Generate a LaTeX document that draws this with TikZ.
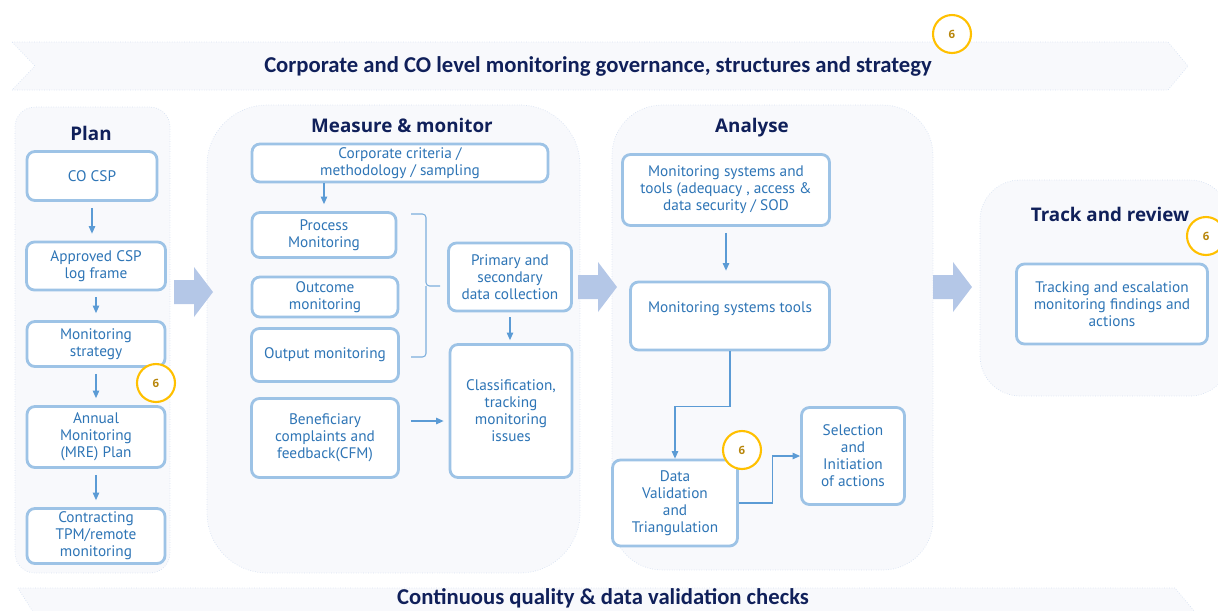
\documentclass[tikz,border=0pt]{standalone}
\usepackage{fontspec}
\setmainfont{PT Sans}
\newfontfamily\headfont{Open Sans}
\newfontfamily\bannerfont{Carlito}
\usepackage{xcolor}
\usetikzlibrary{arrows.meta,positioning,calc}
\definecolor{navy}{RGB}{16,32,90}
\definecolor{boxline}{RGB}{157,195,230}
\definecolor{boxtext}{RGB}{46,117,182}
\definecolor{linkblue}{RGB}{91,155,213}
\definecolor{panelfill}{RGB}{248,249,252}
\definecolor{panelline}{RGB}{214,225,242}
\definecolor{blockblue}{RGB}{180,199,231}
\definecolor{gold}{RGB}{255,192,0}
\definecolor{golddark}{RGB}{184,134,11}

\begin{document}
\begin{tikzpicture}[x=0.02cm,y=-0.02cm,
  box/.style={draw=boxline,line width=1.6pt,fill=white,rounded corners=4.5pt,align=center,
              text=boxtext,font=\fontsize{8.7}{9.7}\selectfont,inner sep=1pt},
  panel/.style={draw=panelline,densely dotted,fill=panelfill},
  banner/.style={draw=panelline,densely dotted,fill=panelfill},
  title/.style={font=\headfont\bfseries\fontsize{10.7}{12}\selectfont,text=navy},
  bannertext/.style={font=\bannerfont\bfseries\fontsize{12.9}{14}\selectfont,text=navy},
  badge/.style={circle,draw=gold,line width=1.2pt,fill=white,minimum size=0.76cm,inner sep=0pt,
              font=\headfont\bfseries\fontsize{6.5}{7}\selectfont,text=golddark},
  link/.style={-{Triangle[length=1.5mm,width=1.3mm]},linkblue,line width=0.6pt},
  bracket/.style={linkblue!80,line width=0.6pt,rounded corners=2pt}]
  \useasboundingbox (0,0) rectangle (1218,610);
  \clip (0,0) rectangle (1218,610);
  % banners
  \draw[banner] (12,42) -- (1168,42) -- (1188,66) -- (1168,90) -- (12,90) -- (35,66) -- cycle;
  \node[bannertext] (govern) at (598,66) {Corporate and CO level monitoring governance, structures and strategy};
  \draw[banner] (18,588) -- (1175,588) -- (1195,612) -- (1175,636) -- (18,636) -- (33,612) -- cycle;
  \node[bannertext] (checks) at (603,598) {Continuous quality \& data validation checks};
  % panels
  \node[panel,rounded corners=0.4cm,minimum width=3.1cm,minimum height=9.32cm] (plan) at (92.5,340) {};
  \node[panel,rounded corners=1.2cm,minimum width=7.46cm,minimum height=9.36cm] (measure) at (393.5,339) {};
  \node[panel,rounded corners=1.0cm,minimum width=6.42cm,minimum height=9.3cm] (analyse) at (772.5,337.5) {};
  \node[panel,rounded corners=0.8cm,minimum width=5.0cm,minimum height=4.32cm] (track) at (1105,288) {};
  \node[title] (plant) at (91,133) {Plan};
  \node[title] (measuret) at (402,125) {Measure \& monitor};
  \node[title] (analyset) at (752,128) {Analyse};
  \node[title] (trackt) at (1110,214) {Track and review};
  % block arrows
  \foreach \x/\y in {174/292,578/287,933/287}
    \fill[blockblue] (\x,\y-12) -- (\x+20,\y-12) -- (\x+20,\y-25) -- (\x+39,\y)
      -- (\x+20,\y+25) -- (\x+20,\y+12) -- (\x,\y+12) -- cycle;
  % plan
  \node[box,minimum width=2.6cm,minimum height=0.98cm] (csp) at (92,176) {CO CSP};
  \node[box,minimum width=2.78cm,minimum height=0.96cm] (logframe) at (96,266) {Approved CSP\\log frame};
  \node[box,minimum width=2.76cm,minimum height=0.9cm] (strategy) at (96,344) {Monitoring\\strategy};
  \node[box,minimum width=2.76cm,minimum height=1.22cm] (annual) at (96,437) {Annual\\Monitoring\\(MRE) Plan};
  \node[box,minimum width=2.76cm,minimum height=1.1cm] (contract) at (96,536) {Contracting\\TPM/remote\\monitoring};
  % measure & monitor
  \node[box,minimum width=5.92cm,minimum height=0.76cm] (criteria) at (400,163) {Corporate criteria /\\methodology / sampling};
  \node[box,minimum width=2.88cm,minimum height=0.9cm] (process) at (324,235) {Process\\Monitoring};
  \node[box,minimum width=2.92cm,minimum height=0.8cm] (outcome) at (325,297) {Outcome\\monitoring};
  \node[box,minimum width=2.94cm,minimum height=1.06cm] (output) at (325,355) {Output monitoring};
  \node[box,minimum width=2.94cm,minimum height=1.58cm] (feedback) at (325,438) {Beneficiary\\complaints and\\feedback(CFM)};
  \node[box,minimum width=2.46cm,minimum height=1.36cm] (collect) at (510,277) {Primary and\\secondary\\data collection};
  \node[box,minimum width=2.44cm,minimum height=2.66cm] (classify) at (511,411) {Classification,\\tracking\\monitoring\\issues};
  % analyse
  \node[box,minimum width=4.14cm,minimum height=1.42cm] (tools) at (726,190) {Monitoring systems and\\tools (adequacy , access \&\\data security / SOD};
  \node[box,minimum width=3.98cm,minimum height=1.36cm] (systools) at (730,316) {Monitoring systems tools\\~};
  \node[box,minimum width=2.5cm,minimum height=1.72cm] (validate) at (675,503) {Data\\Validation\\and\\Triangulation};
  \node[box,minimum width=2.06cm,minimum height=1.94cm] (select) at (853,456) {Selection\\and\\Initiation\\of actions};
  % track and review
  \node[box,minimum width=3.82cm,minimum height=1.6cm] (escalate) at (1112,304) {Tracking and escalation\\monitoring findings and\\actions};
  % connectors
  \foreach \a/\b in {csp/logframe,logframe/strategy,strategy/annual,annual/contract}
    \draw[link,shorten <=0.12cm,shorten >=0.14cm] (\a.south) -- (\a.south |- \b.north);
  \draw[link,shorten >=0.14cm] (process.north |- criteria.south) -- (process.north);
  \draw[link,shorten <=0.1cm,shorten >=0.06cm] (collect.south) -- (collect.south |- classify.north);
  \draw[link,shorten <=0.22cm,shorten >=0.1cm] ([yshift=0.34cm]feedback.east) -- ([yshift=0.34cm]feedback.east -| classify.west);
  \draw[bracket] (411,214) -| (426,286) -- (440,286) (426,286) |- (411,357);
  \draw[link,shorten <=0.12cm,shorten >=0.2cm] (tools.south) -- (tools.south |- systools.north);
  \draw[link] (systools.south) -- ++(0,55) -| (validate.north);
  \draw[link] (validate.east) -- ++(34,0) |- (select.west);
  % badges
  \node[badge] (b1) at (952,34) {6};
  \node[badge] (b2) at (156,383) {6};
  \node[badge] (b3) at (742,450) {6};
  \node[badge] (b4) at (1206,236) {6};
\end{tikzpicture}
\end{document}
